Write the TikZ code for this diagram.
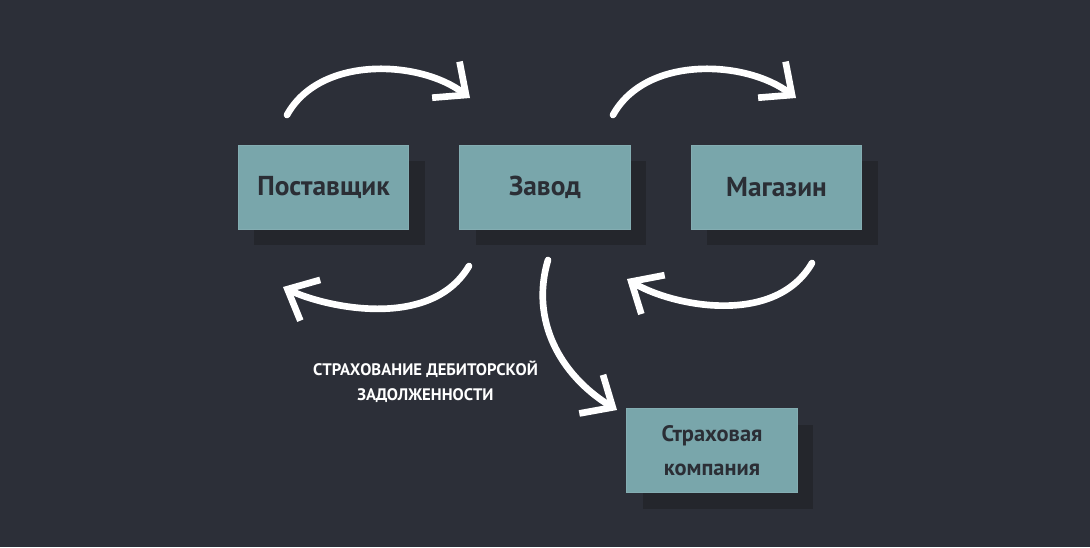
\documentclass[tikz,border=0pt]{standalone}
\usepackage{fontspec}
\setmainfont{PT Sans}
\usetikzlibrary{arrows.meta,shadows}
\definecolor{bgc}{HTML}{2C2F38}
\definecolor{boxc}{HTML}{79A6AB}
\definecolor{shadc}{HTML}{24262C}
\definecolor{txtc}{HTML}{2B2E35}
\tikzset{
	unit/.style={rectangle,fill=boxc,draw=boxc!92!white,line width=0.6pt,minimum width=128pt,minimum height=63pt,inner sep=0pt,
		drop shadow={shadow xshift=12pt,shadow yshift=-12pt,fill=shadc,opacity=1},
		text=txtc,font=\bfseries\fontsize{20.5}{24}\selectfont,align=center},
	flow/.style={draw=white,line width=5pt,line cap=round,-{Straight Barb[length=19pt,width=34pt,line width=5pt]}}
}
\begin{document}
\begin{tikzpicture}[x=0.75pt,y=-0.75pt]
	\fill[bgc] (0,0) rectangle (1090,547);
	\useasboundingbox (0,0) rectangle (1090,547);
	% boxes
	\node[unit] (post) at (323.5,187) {Поставщик};
	\node[unit] (zavod) at (545,187) {Завод};
	\node[unit] (magaz) at (776.5,187) {Магазин};
	\node[unit,font=\bfseries\fontsize{16.8}{25.5}\selectfont] (strah) at (712,450.5) {Страховая\\компания};
	\node[text=white,font=\bfseries\fontsize{12.5}{19}\selectfont,align=center] (lbl) at (425.5,382) {СТРАХОВАНИЕ ДЕБИТОРСКОЙ\\ЗАДОЛЖЕННОСТИ};
	% arrow ends
	\coordinate (a1s) at (287,115);
	\coordinate (a1e) at (470,98);
	\coordinate (a2s) at (613,115);
	\coordinate (a2e) at (796,98);
	\coordinate (a3s) at (469,266);
	\coordinate (a3e) at (283,287);
	\coordinate (a4s) at (812,263);
	\coordinate (a4e) at (627,279);
	\coordinate (a5s) at (548,260);
	\coordinate (a5e) at (617,410);
	% arrows
	\draw[flow] (a1s) .. controls (320,55) and (420,60) .. (a1e);
	\draw[flow] (a2s) .. controls (646,55) and (746,60) .. (a2e);
	\draw[flow] (a3s) .. controls (430,332) and (322,306) .. (a3e);
	\draw[flow] (a4s) .. controls (775,327) and (672,306) .. (a4e);
	\draw[flow] (a5s) .. controls (530,320) and (560,375) .. (a5e);
\end{tikzpicture}
\end{document}
